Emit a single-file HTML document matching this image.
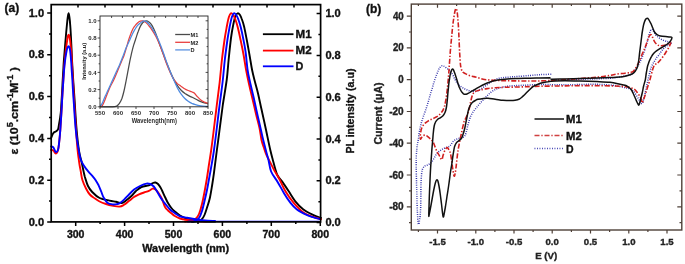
<!DOCTYPE html><html><head><meta charset="utf-8"><style>
html,body{margin:0;padding:0;background:#fff;width:685px;height:264px;overflow:hidden}
svg{display:block;will-change:transform}
text{font-family:'Liberation Sans',sans-serif;font-weight:bold;stroke:#1a1a1a;stroke-width:0.35px;paint-order:stroke}
#inset text{stroke:none}
</style></head><body>
<svg width="685" height="264" viewBox="0 0 685 264">
<rect width="685" height="264" fill="#fff"/>
<g id="pa">
<g fill="none" stroke-width="1.9" stroke-linejoin="round" stroke-linecap="round">
<path d="M51.0 138.4C51.4 137.5 52.6 134.1 53.4 133.0C54.2 131.9 54.9 132.2 55.7 131.6C56.5 131.0 57.4 130.6 58.0 129.3C58.6 128.0 58.7 125.6 59.1 123.6C59.5 121.5 59.9 119.3 60.2 117.0C60.5 114.7 60.8 112.8 61.0 110.0C61.2 107.2 61.4 103.3 61.6 100.0C61.8 96.7 62.0 93.3 62.2 90.0C62.4 86.7 62.5 83.3 62.7 80.0C62.9 76.7 63.1 73.3 63.3 70.0C63.5 66.7 63.6 63.7 63.9 60.0C64.2 56.3 64.6 52.0 64.9 48.0C65.2 44.0 65.6 39.8 65.9 36.0C66.2 32.2 66.6 28.2 66.9 25.0C67.2 21.8 67.5 19.0 67.8 17.0C68.1 15.0 68.3 13.2 68.6 13.2C68.9 13.2 69.1 15.0 69.4 17.0C69.7 19.0 70.0 21.8 70.2 25.0C70.5 28.2 70.7 32.2 70.9 36.0C71.1 39.8 71.3 44.0 71.5 48.0C71.7 52.0 71.8 56.3 72.0 60.0C72.2 63.7 72.4 66.7 72.6 70.0C72.8 73.3 73.0 76.7 73.2 80.0C73.4 83.3 73.7 86.7 73.9 90.0C74.1 93.3 74.4 96.7 74.6 100.0C74.8 103.3 75.0 106.3 75.2 110.0C75.4 113.7 75.7 117.5 76.0 122.0C76.3 126.5 76.9 132.9 77.3 137.0C77.7 141.1 78.0 143.7 78.4 146.5C78.8 149.3 79.1 151.6 79.6 154.0C80.1 156.4 80.6 157.9 81.3 160.7C82.0 163.5 82.9 168.3 83.5 171.0C84.1 173.7 84.2 174.5 84.9 177.0C85.7 179.5 86.8 183.5 88.0 186.0C89.2 188.5 90.3 190.0 92.2 192.0C94.1 194.0 96.7 196.6 99.6 198.0C102.5 199.4 106.8 200.0 109.5 200.6C112.2 201.2 114.0 201.4 116.0 201.8C118.0 202.2 120.1 203.2 121.8 203.0C123.5 202.8 124.3 201.7 126.0 200.5C127.7 199.3 130.0 197.3 131.7 195.7C133.4 194.1 134.4 192.4 136.0 191.0C137.6 189.6 139.3 187.9 141.5 187.0C143.7 186.1 147.0 186.0 148.9 185.3C150.8 184.6 151.9 183.5 153.0 183.0C154.1 182.5 154.7 182.3 155.5 182.5C156.3 182.7 157.2 183.2 158.0 184.0C158.8 184.8 159.8 186.2 160.5 187.5C161.2 188.8 161.8 189.9 162.5 191.5C163.2 193.1 164.1 195.2 165.0 197.0C165.9 198.8 166.7 200.8 167.7 202.5C168.7 204.2 169.9 206.1 171.0 207.5C172.1 208.9 173.0 209.9 174.5 211.2C176.0 212.5 177.9 214.2 180.0 215.5C182.1 216.8 184.5 218.0 187.0 218.8C189.5 219.6 192.0 219.9 195.0 220.3C198.0 220.7 201.7 221.0 205.0 221.2C208.3 221.4 213.3 221.5 215.0 221.6" stroke="#000"/>
<path d="M192.0 221.8C193.0 221.7 196.4 221.6 198.0 221.2C199.6 220.8 200.4 220.6 201.5 219.6C202.6 218.6 203.6 217.1 204.5 215.0C205.4 212.9 206.3 209.8 207.2 207.0C208.1 204.2 209.0 201.8 209.8 198.3C210.6 194.8 211.3 190.3 212.0 186.0C212.7 181.7 213.2 178.7 214.0 172.7C214.8 166.7 215.9 157.4 216.9 150.0C217.9 142.6 218.8 135.5 219.8 128.0C220.8 120.5 221.7 113.0 222.8 105.0C224.0 97.0 225.7 87.5 226.7 80.0C227.7 72.5 227.9 67.0 228.6 60.0C229.3 53.0 230.2 44.0 231.0 38.0C231.8 32.0 232.6 27.8 233.4 24.0C234.2 20.2 234.9 17.3 235.6 15.5C236.3 13.7 237.0 13.5 237.7 13.3C238.4 13.1 239.0 13.6 239.7 14.5C240.4 15.4 241.1 16.9 241.8 19.0C242.6 21.1 243.4 23.5 244.2 27.0C245.0 30.5 245.9 35.3 246.8 40.0C247.7 44.7 248.6 50.0 249.5 55.0C250.4 60.0 251.2 65.5 252.1 70.0C253.0 74.5 254.0 78.0 255.0 82.0C256.0 86.0 257.2 89.9 258.2 94.2C259.2 98.5 260.2 103.5 261.2 108.0C262.2 112.5 263.2 116.8 264.2 121.5C265.2 126.2 266.3 131.2 267.3 136.0C268.3 140.8 269.4 146.1 270.3 150.0C271.2 153.9 271.9 156.4 272.7 159.4C273.5 162.4 274.2 165.3 275.0 168.0C275.8 170.7 276.4 173.2 277.6 175.5C278.8 177.8 280.5 179.2 282.4 181.9C284.3 184.6 286.8 188.4 288.9 191.6C291.0 194.8 292.9 198.3 295.3 201.3C297.7 204.3 300.4 207.2 303.4 209.4C306.3 211.7 310.1 213.4 313.0 214.8C315.9 216.2 319.7 217.5 321.0 218.0" stroke="#000"/>
<path d="M51.0 150.0C51.4 150.1 52.6 149.9 53.4 150.5C54.2 151.1 54.9 153.5 55.7 153.5C56.5 153.5 57.4 152.4 58.0 150.5C58.6 148.6 58.8 145.4 59.2 142.0C59.6 138.6 60.0 134.3 60.3 130.0C60.6 125.7 60.9 120.7 61.2 116.0C61.5 111.3 61.8 106.3 62.0 102.0C62.2 97.7 62.5 93.7 62.7 90.0C62.9 86.3 63.1 83.3 63.3 80.0C63.5 76.7 63.8 73.3 64.0 70.0C64.2 66.7 64.5 63.0 64.8 60.0C65.1 57.0 65.3 54.5 65.6 52.0C65.9 49.5 66.2 47.2 66.5 45.0C66.8 42.8 67.1 40.6 67.4 39.0C67.7 37.4 67.9 36.3 68.1 35.6C68.3 34.9 68.4 34.6 68.6 34.6C68.8 34.6 69.0 34.9 69.2 35.6C69.4 36.3 69.7 37.4 69.9 39.0C70.1 40.6 70.4 42.8 70.6 45.0C70.8 47.2 71.1 49.5 71.3 52.0C71.5 54.5 71.6 57.0 71.8 60.0C72.0 63.0 72.1 66.7 72.3 70.0C72.5 73.3 72.7 76.3 72.9 80.0C73.1 83.7 73.4 88.0 73.6 92.0C73.8 96.0 74.0 99.7 74.3 104.0C74.6 108.3 74.9 113.0 75.2 118.0C75.5 123.0 76.0 129.2 76.3 134.0C76.6 138.8 77.0 143.3 77.3 147.0C77.6 150.7 77.9 153.1 78.3 156.0C78.7 158.9 79.1 162.0 79.5 164.5C79.9 167.0 80.2 168.4 80.7 171.0C81.2 173.6 81.5 177.1 82.4 180.0C83.3 182.9 84.8 186.1 86.0 188.5C87.2 190.9 88.3 192.8 89.8 194.5C91.3 196.2 93.4 197.3 95.0 198.5C96.6 199.7 97.8 200.6 99.6 201.5C101.4 202.4 103.9 203.3 106.0 204.0C108.1 204.7 109.8 205.2 112.0 205.6C114.2 206.0 117.3 206.7 119.3 206.6C121.3 206.5 122.3 205.8 124.0 204.8C125.7 203.8 127.5 202.1 129.2 200.8C130.9 199.5 132.4 198.1 134.0 197.0C135.6 195.9 137.3 195.1 139.0 194.3C140.7 193.6 142.3 193.1 144.0 192.5C145.7 191.9 147.5 191.5 148.9 190.8C150.3 190.2 151.5 188.8 152.6 188.6C153.7 188.4 154.5 188.7 155.5 189.5C156.5 190.3 157.6 191.7 158.7 193.3C159.8 194.9 161.0 196.8 162.0 199.0C163.0 201.2 163.9 204.9 164.9 206.8C165.9 208.7 167.0 209.5 168.0 210.5C169.0 211.5 169.9 212.1 171.0 213.0C172.1 213.9 173.3 215.1 174.8 216.0C176.3 216.9 177.8 217.8 180.0 218.5C182.2 219.2 185.3 219.6 188.0 220.0C190.7 220.4 193.0 220.7 196.0 221.0C199.0 221.3 204.3 221.5 206.0 221.6" stroke="#f00"/>
<path d="M185.0 221.5C186.2 221.3 190.2 221.0 192.0 220.5C193.8 220.0 194.8 219.6 196.0 218.5C197.2 217.4 198.0 216.4 199.0 214.0C200.0 211.6 201.1 207.7 202.0 204.0C202.9 200.3 203.7 196.2 204.5 192.0C205.3 187.8 206.1 183.2 206.8 179.0C207.5 174.8 207.9 171.8 208.6 167.0C209.3 162.2 210.3 156.5 211.2 150.0C212.1 143.5 213.1 135.5 214.0 128.0C214.9 120.5 215.9 112.7 216.8 105.0C217.8 97.3 218.8 89.5 219.7 82.0C220.5 74.5 221.1 67.0 221.9 60.0C222.7 53.0 223.7 45.7 224.5 40.0C225.3 34.3 226.2 29.8 226.9 26.0C227.6 22.2 228.2 19.1 228.9 17.0C229.6 14.9 230.2 13.7 230.9 13.3C231.6 12.9 232.2 13.6 232.9 14.5C233.6 15.4 234.4 16.9 235.2 19.0C236.0 21.1 236.8 23.5 237.7 27.0C238.6 30.5 239.6 35.3 240.6 40.0C241.6 44.7 242.7 50.0 243.6 55.0C244.5 60.0 245.2 65.2 246.1 70.0C247.0 74.8 248.0 79.5 249.0 84.0C250.0 88.5 250.9 92.3 252.1 97.3C253.3 102.3 254.8 108.9 256.0 114.0C257.2 119.1 258.6 123.7 259.5 128.0C260.4 132.3 260.8 136.7 261.5 140.0C262.2 143.3 263.2 145.6 264.0 148.0C264.8 150.4 265.3 152.2 266.3 154.5C267.3 156.8 268.6 159.3 270.0 162.0C271.4 164.7 272.9 167.8 274.4 170.6C275.9 173.4 277.3 175.2 279.2 178.7C281.1 182.2 283.2 187.6 285.6 191.6C288.0 195.6 290.7 199.4 293.7 202.9C296.7 206.4 300.2 210.3 303.4 212.6C306.6 214.9 310.1 215.7 313.0 216.8C315.9 217.9 319.7 218.8 321.0 219.2" stroke="#f00"/>
<path d="M51.1 146.4C51.5 146.6 52.6 146.6 53.4 147.5C54.2 148.4 54.9 151.6 55.7 152.0C56.5 152.4 57.4 151.5 58.0 149.8C58.6 148.1 58.8 145.1 59.2 141.8C59.6 138.5 60.0 134.3 60.3 130.0C60.6 125.7 60.9 120.7 61.2 116.0C61.5 111.3 61.8 106.3 62.0 102.0C62.2 97.7 62.5 93.7 62.7 90.0C62.9 86.3 63.2 83.3 63.4 80.0C63.6 76.7 63.8 73.0 64.1 70.0C64.3 67.0 64.6 64.3 64.9 62.0C65.2 59.7 65.4 57.8 65.7 56.0C66.0 54.2 66.3 52.4 66.6 51.0C66.9 49.6 67.3 48.3 67.6 47.5C67.9 46.7 68.3 46.2 68.6 46.2C68.9 46.2 69.2 46.7 69.5 47.5C69.8 48.3 70.0 49.6 70.2 51.0C70.4 52.4 70.5 54.2 70.7 56.0C70.9 57.8 71.0 59.7 71.2 62.0C71.4 64.3 71.5 67.0 71.7 70.0C71.9 73.0 72.2 76.3 72.4 80.0C72.6 83.7 72.8 88.0 73.1 92.0C73.3 96.0 73.6 99.7 73.9 104.0C74.2 108.3 74.5 114.0 74.8 118.0C75.1 122.0 75.3 124.8 75.6 128.0C75.9 131.2 76.1 133.6 76.6 137.0C77.1 140.4 77.7 144.8 78.4 148.6C79.1 152.3 79.7 156.5 80.7 159.5C81.7 162.5 83.2 164.4 84.5 166.5C85.8 168.6 87.3 170.2 88.6 171.8C89.9 173.4 91.1 174.4 92.3 175.8C93.5 177.2 94.5 178.4 95.5 180.0C96.5 181.6 97.6 183.4 98.6 185.3C99.5 187.2 100.4 189.5 101.2 191.5C102.0 193.5 102.5 195.6 103.6 197.5C104.7 199.4 106.1 201.8 107.7 203.0C109.3 204.2 111.6 204.3 113.2 204.5C114.8 204.7 116.4 204.2 117.5 204.0C118.6 203.8 118.9 203.8 120.0 203.0C121.1 202.2 122.8 200.8 124.3 199.4C125.8 198.0 127.4 196.1 129.0 194.5C130.6 192.9 132.3 191.0 134.1 189.6C135.9 188.2 137.9 187.0 140.0 186.0C142.1 185.0 144.7 183.9 146.4 183.6C148.1 183.3 148.8 183.5 150.0 184.0C151.2 184.5 152.7 185.3 153.8 186.5C154.9 187.7 155.7 189.2 156.8 191.0C157.9 192.8 159.1 195.2 160.2 197.0C161.3 198.8 162.5 200.3 163.6 201.8C164.7 203.3 165.8 204.6 167.0 206.0C168.2 207.4 169.2 208.8 170.5 210.0C171.8 211.2 173.4 212.1 175.0 213.2C176.6 214.2 178.0 215.5 180.0 216.3C182.0 217.1 184.4 217.3 187.0 217.8C189.6 218.3 192.6 218.8 195.6 219.2C198.6 219.6 201.8 220.2 205.0 220.5C208.2 220.8 213.3 220.9 215.0 221.0" stroke="#00f"/>
<path d="M188.0 221.6C189.2 221.5 193.2 221.4 195.0 220.8C196.8 220.2 197.8 219.6 199.0 218.0C200.2 216.4 201.0 214.2 202.0 211.0C203.0 207.8 204.1 202.7 205.0 199.0C205.9 195.3 206.5 192.5 207.2 189.0C207.9 185.5 208.5 181.7 209.2 178.0C209.9 174.3 210.4 171.7 211.2 167.0C212.0 162.3 213.1 156.5 214.0 150.0C214.9 143.5 215.9 135.5 216.8 128.0C217.7 120.5 218.6 112.7 219.6 105.0C220.6 97.3 221.7 89.5 222.6 82.0C223.5 74.5 224.0 67.0 224.8 60.0C225.6 53.0 226.6 45.7 227.4 40.0C228.2 34.3 229.1 29.8 229.8 26.0C230.6 22.2 231.2 19.1 231.9 17.0C232.6 14.9 233.2 13.7 233.9 13.3C234.6 12.9 235.2 13.6 235.9 14.5C236.6 15.4 237.4 16.9 238.2 19.0C239.0 21.1 239.8 23.5 240.7 27.0C241.6 30.5 242.7 35.8 243.5 40.0C244.3 44.2 244.9 47.0 245.6 52.0C246.3 57.0 246.9 65.0 247.6 70.0C248.3 75.0 249.0 77.5 250.0 82.0C251.0 86.5 252.5 92.5 253.6 97.3C254.7 102.1 255.6 106.5 256.6 111.0C257.6 115.5 258.7 120.2 259.7 124.5C260.7 128.8 261.5 132.8 262.5 137.0C263.5 141.2 264.8 146.2 265.8 150.0C266.8 153.8 267.6 156.4 268.5 160.0C269.4 163.6 269.6 167.8 271.1 171.5C272.6 175.2 275.5 178.3 277.6 181.9C279.8 185.5 281.9 189.7 284.0 193.2C286.1 196.7 288.4 200.2 290.5 202.9C292.6 205.6 294.2 207.4 296.9 209.4C299.6 211.4 303.9 213.5 306.6 214.8C309.3 216.1 310.9 216.5 313.0 217.2C315.1 217.9 318.4 218.7 319.5 219.0" stroke="#00f"/>
<path d="M196.0 221.4 L319 221.4" stroke="#00f" stroke-width="1.4"/>
</g>
<rect x="51.2" y="4.6" width="269.4" height="217.3" fill="none" stroke="#000" stroke-width="1.7"/>
<path d="M47.2 222.0H51.2M49.0 201.1H51.2M47.2 180.2H51.2M49.0 159.3H51.2M47.2 138.4H51.2M49.0 117.5H51.2M47.2 96.6H51.2M49.0 75.7H51.2M47.2 54.8H51.2M49.0 33.9H51.2M47.2 13.0H51.2M316.6 222.6H320.6M318.4 201.7H320.6M316.6 180.8H320.6M318.4 159.9H320.6M316.6 139.0H320.6M318.4 118.1H320.6M316.6 97.2H320.6M318.4 76.3H320.6M316.6 55.4H320.6M318.4 34.5H320.6M316.6 13.6H320.6M75.7 221.9V225.9M124.6 221.9V225.9M173.5 221.9V225.9M222.4 221.9V225.9M271.3 221.9V225.9M320.3 221.9V225.9M100.1 221.9V224.1M149.0 221.9V224.1M198.0 221.9V224.1M246.9 221.9V224.1M295.8 221.9V224.1M294.0 4.6V7.6M267.0 4.6V7.6M240.0 4.6V7.6M213.0 4.6V7.6M186.0 4.6V7.6M159.0 4.6V7.6M132.0 4.6V7.6M105.0 4.6V7.6M78.0 4.6V7.6" stroke="#000" stroke-width="1.5" fill="none"/>
<g font-size="10.2" fill="#111">
<text x="44.1" y="225.6" text-anchor="end" textLength="15.4" lengthAdjust="spacingAndGlyphs">0.0</text>
<text x="325.4" y="226.2" textLength="15.4" lengthAdjust="spacingAndGlyphs">0.0</text>
<text x="44.1" y="183.8" text-anchor="end" textLength="15.4" lengthAdjust="spacingAndGlyphs">0.2</text>
<text x="325.4" y="184.4" textLength="15.4" lengthAdjust="spacingAndGlyphs">0.2</text>
<text x="44.1" y="142.0" text-anchor="end" textLength="15.4" lengthAdjust="spacingAndGlyphs">0.4</text>
<text x="325.4" y="142.6" textLength="15.4" lengthAdjust="spacingAndGlyphs">0.4</text>
<text x="44.1" y="100.2" text-anchor="end" textLength="15.4" lengthAdjust="spacingAndGlyphs">0.6</text>
<text x="325.4" y="100.8" textLength="15.4" lengthAdjust="spacingAndGlyphs">0.6</text>
<text x="44.1" y="58.4" text-anchor="end" textLength="15.4" lengthAdjust="spacingAndGlyphs">0.8</text>
<text x="325.4" y="59.0" textLength="15.4" lengthAdjust="spacingAndGlyphs">0.8</text>
<text x="44.1" y="16.6" text-anchor="end" textLength="15.4" lengthAdjust="spacingAndGlyphs">1.0</text>
<text x="325.4" y="17.2" textLength="15.4" lengthAdjust="spacingAndGlyphs">1.0</text>
<text x="75.7" y="238.0" text-anchor="middle" textLength="17.6" lengthAdjust="spacingAndGlyphs">300</text>
<text x="124.6" y="238.0" text-anchor="middle" textLength="17.6" lengthAdjust="spacingAndGlyphs">400</text>
<text x="173.5" y="238.0" text-anchor="middle" textLength="17.6" lengthAdjust="spacingAndGlyphs">500</text>
<text x="222.4" y="238.0" text-anchor="middle" textLength="17.6" lengthAdjust="spacingAndGlyphs">600</text>
<text x="271.3" y="238.0" text-anchor="middle" textLength="17.6" lengthAdjust="spacingAndGlyphs">700</text>
<text x="320.3" y="238.0" text-anchor="middle" textLength="17.6" lengthAdjust="spacingAndGlyphs">800</text>
</g>
<text x="142.3" y="252.0" font-size="10.4" textLength="86.8" lengthAdjust="spacingAndGlyphs" fill="#111">Wavelength (nm)</text>
<text x="4.6" y="11.8" font-size="12" fill="#111">(a)</text>
<text transform="translate(17.8,154.6) rotate(-90)" font-size="11.6" fill="#111" textLength="87.5" lengthAdjust="spacingAndGlyphs">&#949; (10<tspan font-size="8.4" dy="-4.6">5</tspan><tspan dy="4.6">.cm</tspan><tspan font-size="8.4" dy="-4.6">-1</tspan><tspan dy="4.6">M</tspan><tspan font-size="8.4" dy="-4.6">-1</tspan><tspan dy="4.6"> )</tspan></text>
<text transform="translate(353.6,153.6) rotate(-90)" font-size="11.4" fill="#111" textLength="85" lengthAdjust="spacingAndGlyphs">PL intensity (a.u)</text>
<g stroke-width="1.8">
<path d="M262.9 34.2H293.5" stroke="#000"/>
<path d="M262.9 50.6H293.5" stroke="#f00"/>
<path d="M262.9 66.3H293.5" stroke="#00f"/>
</g>
<g font-size="10.5" fill="#111">
<text x="295.5" y="37.9" textLength="16.1" lengthAdjust="spacingAndGlyphs">M1</text>
<text x="295.5" y="54.4" textLength="16.1" lengthAdjust="spacingAndGlyphs">M2</text>
<text x="295.5" y="70.1" textLength="7.8" lengthAdjust="spacingAndGlyphs">D</text>
</g>
<g id="inset">
<g fill="none" stroke-width="1.25" stroke-linejoin="round">
<path d="M100.0 106.8C102.1 106.8 109.8 106.9 112.6 106.8C115.4 106.7 115.4 106.7 116.6 106.1C117.7 105.5 118.5 104.7 119.4 103.4C120.3 102.0 121.2 100.4 122.0 98.2C122.7 96.0 123.5 93.2 124.1 90.5C124.8 87.7 125.3 84.9 125.9 81.9C126.5 78.8 127.1 75.6 127.7 72.4C128.3 69.2 128.9 66.0 129.5 62.9C130.1 59.9 130.7 57.2 131.3 54.3C132.0 51.5 132.7 48.5 133.5 45.7C134.3 43.0 135.2 40.4 136.0 38.0C136.8 35.6 137.4 33.5 138.2 31.5C138.9 29.6 139.6 27.8 140.3 26.4C141.0 25.0 141.8 23.8 142.5 23.0C143.1 22.1 143.6 21.8 144.3 21.4C144.9 21.0 145.7 20.8 146.4 20.8C147.2 20.8 147.8 21.1 148.6 21.7C149.4 22.2 150.3 23.1 151.1 24.2C152.0 25.4 152.7 26.7 153.6 28.5C154.5 30.4 155.5 32.7 156.5 35.4C157.5 38.1 158.6 41.7 159.8 44.9C160.9 48.0 162.2 51.2 163.4 54.3C164.6 57.5 165.8 60.8 167.0 63.8C168.2 66.8 169.4 69.7 170.6 72.4C171.8 75.1 173.0 77.8 174.2 80.1C175.4 82.4 176.6 84.4 177.8 86.2C179.0 87.9 180.2 89.2 181.4 90.5C182.6 91.7 183.8 92.6 185.0 93.5C186.2 94.3 187.4 95.0 188.6 95.6C189.8 96.3 190.8 96.7 192.2 97.3C193.5 98.0 195.0 98.8 196.5 99.5C197.9 100.2 199.5 101.1 200.8 101.6C202.1 102.2 203.2 102.6 204.4 102.9C205.6 103.3 207.4 103.6 208.0 103.8" stroke="#4a4a4a"/>
<path d="M100.0 106.6C100.4 106.5 101.4 106.6 102.2 105.8C102.9 104.9 103.5 103.6 104.3 101.6C105.2 99.7 106.2 96.3 107.2 93.9C108.2 91.5 109.0 89.3 110.1 87.0C111.2 84.7 112.6 82.4 113.7 80.1C114.8 77.8 115.7 75.4 116.6 73.3C117.5 71.1 118.2 69.2 119.1 67.2C119.9 65.2 120.8 63.2 121.6 61.2C122.4 59.2 123.3 57.6 124.1 55.2C125.0 52.8 125.9 49.5 126.6 47.0C127.4 44.6 127.7 42.9 128.4 40.6C129.2 38.3 130.2 35.3 131.0 33.3C131.7 31.3 132.4 29.9 133.1 28.5C133.8 27.2 134.5 26.2 135.3 25.3C136.1 24.3 137.0 23.4 137.8 22.7C138.6 22.0 139.5 21.5 140.3 21.2C141.1 20.9 141.8 20.7 142.5 20.8C143.2 20.9 143.9 21.2 144.6 21.7C145.4 22.1 146.1 22.7 146.8 23.4C147.5 24.1 148.1 24.8 149.0 26.0C149.9 27.1 151.1 28.5 152.2 30.3C153.3 32.0 154.6 34.0 155.8 36.3C157.0 38.6 158.2 41.2 159.4 44.0C160.6 46.9 161.8 50.2 163.0 53.5C164.2 56.8 165.4 60.6 166.6 63.8C167.8 67.0 169.0 69.8 170.2 72.4C171.4 75.0 172.6 77.4 173.8 79.3C175.0 81.1 176.2 82.4 177.4 83.6C178.6 84.7 179.8 85.3 181.0 86.2C182.2 87.0 183.4 88.0 184.6 88.7C185.8 89.5 187.0 90.0 188.2 90.5C189.4 91.0 190.8 91.3 191.8 91.8C192.8 92.2 193.4 92.3 194.3 93.0C195.2 93.8 196.1 95.3 197.2 96.5C198.3 97.6 199.6 99.0 200.8 99.9C202.0 100.9 203.2 101.5 204.4 102.1C205.6 102.6 207.4 103.1 208.0 103.4" stroke="#e8403f"/>
<path d="M100.0 106.5C100.4 106.0 101.4 104.8 102.2 103.4C102.9 102.0 103.6 99.8 104.3 98.2C105.0 96.6 105.7 95.2 106.5 93.5C107.3 91.8 108.0 90.1 109.0 87.9C110.0 85.7 111.4 82.8 112.6 80.1C113.8 77.5 115.0 74.6 116.2 72.0C117.4 69.3 118.7 66.9 119.8 64.2C120.9 61.6 122.0 58.7 123.0 56.1C124.1 53.4 124.8 51.0 125.9 48.3C127.1 45.6 128.8 42.1 129.9 39.7C131.0 37.4 131.6 35.8 132.4 34.1C133.2 32.4 134.1 30.8 134.9 29.4C135.8 28.0 136.6 26.7 137.4 25.7C138.3 24.7 139.2 23.9 140.0 23.2C140.7 22.5 141.5 22.1 142.1 21.7C142.8 21.3 143.3 20.8 143.9 20.8C144.6 20.8 145.2 20.9 146.1 21.4C146.9 21.9 147.9 22.9 149.0 24.1C150.0 25.3 151.1 26.8 152.2 28.5C153.3 30.3 154.6 32.3 155.8 34.6C157.0 36.9 158.2 39.4 159.4 42.3C160.6 45.2 161.8 48.5 163.0 51.8C164.2 55.1 165.4 58.8 166.6 62.1C167.8 65.4 169.0 68.5 170.2 71.5C171.4 74.5 172.6 77.4 173.8 80.1C175.0 82.9 176.2 85.6 177.4 87.9C178.6 90.2 179.8 92.2 181.0 93.9C182.2 95.6 183.4 97.0 184.6 98.2C185.8 99.4 187.0 100.3 188.2 101.2C189.4 102.1 190.6 102.8 191.8 103.4C193.0 103.9 193.9 104.2 195.4 104.6C196.9 105.1 198.7 105.5 200.8 105.8C202.9 106.1 206.8 106.3 208.0 106.4" stroke="#4f8be0"/>
</g>
<rect x="100.0" y="16.0" width="108.0" height="90.8" fill="none" stroke="#222" stroke-width="0.9"/>
<path d="M97.6 106.8H100.0M205.6 106.8H208.0M98.6 98.2H100.0M206.6 98.2H208.0M97.6 89.6H100.0M205.6 89.6H208.0M98.6 81.0H100.0M206.6 81.0H208.0M97.6 72.4H100.0M205.6 72.4H208.0M98.6 63.8H100.0M206.6 63.8H208.0M97.6 55.2H100.0M205.6 55.2H208.0M98.6 46.6H100.0M206.6 46.6H208.0M97.6 38.0H100.0M205.6 38.0H208.0M98.6 29.4H100.0M206.6 29.4H208.0M97.6 20.8H100.0M205.6 20.8H208.0M100.0 106.8V109.0M118.0 106.8V109.0M136.0 106.8V109.0M154.0 106.8V109.0M172.0 106.8V109.0M190.0 106.8V109.0M208.0 106.8V109.0M111.6 16.0V18.0M122.4 16.0V18.0M133.2 16.0V18.0M144.0 16.0V18.0M154.8 16.0V18.0M165.6 16.0V18.0M176.4 16.0V18.0M187.2 16.0V18.0M198.0 16.0V18.0" stroke="#222" stroke-width="0.8" fill="none"/>
<g font-size="6" fill="#2a2a2a">
<text x="96.6" y="109.0" text-anchor="end">0.0</text>
<text x="96.6" y="91.8" text-anchor="end">0.2</text>
<text x="96.6" y="74.6" text-anchor="end">0.4</text>
<text x="96.6" y="57.4" text-anchor="end">0.6</text>
<text x="96.6" y="40.2" text-anchor="end">0.8</text>
<text x="96.6" y="23.0" text-anchor="end">1.0</text>
<text x="100.0" y="115.3" text-anchor="middle">550</text>
<text x="118.0" y="115.3" text-anchor="middle">600</text>
<text x="136.0" y="115.3" text-anchor="middle">650</text>
<text x="154.0" y="115.3" text-anchor="middle">700</text>
<text x="172.0" y="115.3" text-anchor="middle">750</text>
<text x="190.0" y="115.3" text-anchor="middle">800</text>
<text x="208.0" y="115.3" text-anchor="middle">850</text>
</g>
<text x="131.7" y="123.4" font-size="6.4" fill="#2a2a2a" textLength="45.2" lengthAdjust="spacingAndGlyphs">Wavelength(nm)</text>
<text transform="translate(86.2,79.8) rotate(-90)" font-size="6" fill="#222" textLength="37" lengthAdjust="spacingAndGlyphs">Intensity (a.u)</text>
<g stroke-width="1.3">
<path d="M175.2 34.5H190" stroke="#4a4a4a"/>
<path d="M175.2 42.3H190" stroke="#e8403f"/>
<path d="M175.2 49.9H190" stroke="#5b93e0"/>
</g>
<g font-size="5.6" fill="#222">
<text x="190.6" y="36.7">M1</text>
<text x="190.6" y="44.5">M2</text>
<text x="190.6" y="52.1">D</text>
</g>
</g>
</g>
<g id="pb">
<g fill="none" stroke-linejoin="round">
<path d="M551.5 80.2C553.8 80.1 560.2 80.0 565.0 79.8C569.8 79.6 574.7 79.5 580.0 79.3C585.3 79.1 592.0 79.0 597.0 78.8C602.0 78.6 606.5 78.5 610.0 78.3C613.5 78.0 615.5 77.7 618.0 77.3C620.5 76.9 623.0 76.2 625.0 75.8C627.0 75.4 628.7 75.1 630.0 74.7C631.3 74.3 632.0 74.2 633.0 73.2C634.0 72.2 635.2 70.0 636.2 68.5C637.2 67.0 638.0 65.8 639.0 63.9C640.0 62.0 641.3 59.2 642.2 57.0C643.1 54.8 643.9 52.8 644.6 50.6C645.3 48.4 646.0 46.0 646.6 44.0C647.2 42.0 647.7 40.2 648.1 38.5C648.5 36.8 648.9 35.3 649.3 34.0C649.7 32.7 650.0 31.6 650.4 30.8C650.8 30.0 651.2 29.5 651.6 29.4C652.0 29.3 652.3 29.5 652.8 30.0C653.2 30.5 653.6 31.4 654.3 32.5C655.0 33.6 655.8 35.2 657.2 36.4C658.6 37.6 660.7 39.0 662.5 39.9C664.3 40.8 666.4 41.2 667.9 41.7C669.4 42.2 671.0 42.2 671.3 42.6C671.6 43.0 670.3 43.8 669.5 44.4C668.7 45.0 667.4 45.4 666.5 46.0C665.6 46.6 664.7 47.6 664.0 48.3C663.3 49.0 662.9 49.2 662.3 50.0C661.7 50.8 660.7 52.2 660.2 53.0C659.7 53.8 659.8 53.8 659.2 54.6C658.6 55.4 657.4 56.5 656.6 57.7C655.8 58.9 655.1 60.1 654.2 61.6C653.3 63.1 652.1 64.8 651.3 67.0C650.5 69.2 650.0 71.8 649.3 74.5C648.6 77.2 647.9 80.4 647.2 83.5C646.5 86.6 645.8 90.3 645.2 93.0C644.6 95.7 644.0 97.8 643.5 99.5C643.0 101.2 642.9 102.6 642.5 103.3C642.1 104.0 641.8 103.7 641.4 103.4C641.0 103.1 640.5 102.2 640.0 101.4C639.5 100.6 639.0 99.7 638.3 98.5C637.6 97.3 636.5 95.5 635.6 94.2C634.7 92.9 634.1 91.7 633.0 90.8C631.9 89.9 630.3 89.1 629.0 88.6C627.7 88.1 627.3 88.3 625.0 87.8C622.7 87.3 619.2 86.2 615.0 85.6C610.8 85.0 605.0 84.6 600.0 84.4C595.0 84.2 590.0 84.3 585.0 84.4C580.0 84.5 574.2 84.7 570.0 84.8C565.8 84.9 563.6 84.8 560.0 84.8C556.4 84.8 551.5 84.6 548.2 84.6C544.9 84.6 542.5 84.6 540.0 84.6C537.5 84.6 535.5 84.7 533.0 84.8C530.5 84.9 527.5 85.1 525.0 85.2C522.5 85.3 520.4 85.4 517.9 85.5C515.4 85.6 512.5 85.8 510.0 86.0C507.5 86.2 504.7 86.6 502.7 87.0C500.7 87.4 499.2 88.1 498.0 88.5C496.8 88.9 496.4 89.0 495.2 89.6C494.0 90.2 492.3 91.2 491.0 92.2C489.7 93.2 488.8 94.2 487.6 95.3C486.4 96.4 485.3 97.7 484.0 99.0C482.7 100.3 481.2 101.9 480.0 103.3C478.8 104.7 477.6 106.2 476.5 107.6C475.4 109.0 474.1 110.4 473.2 111.8C472.2 113.2 471.5 114.5 470.8 116.0C470.1 117.5 469.7 118.8 469.2 120.5C468.7 122.2 468.1 124.3 467.6 126.3C467.1 128.3 466.6 130.9 466.1 132.5C465.6 134.1 465.5 134.9 464.8 135.8C464.1 136.7 463.2 137.3 462.0 137.8C460.8 138.3 458.9 138.3 457.5 138.8C456.1 139.3 454.8 140.0 453.7 140.9C452.6 141.8 451.8 143.6 451.0 144.5C450.2 145.4 450.0 146.0 448.9 146.6C447.8 147.2 445.6 147.7 444.2 148.3C442.8 148.9 441.7 149.5 440.4 150.4C439.1 151.3 437.7 152.6 436.6 154.0C435.5 155.4 434.8 157.2 433.8 158.7C432.9 160.2 432.0 161.7 430.9 162.8C429.8 163.9 428.3 164.6 427.2 165.2C426.1 165.8 425.1 165.6 424.3 166.3C423.5 167.0 422.9 168.1 422.4 169.5C421.9 170.9 421.7 172.8 421.5 175.0C421.3 177.2 421.1 179.7 421.0 183.0C420.9 186.3 420.9 191.0 420.9 195.0C420.8 199.0 420.8 203.5 420.7 207.0C420.6 210.5 420.3 213.6 420.1 216.0C419.9 218.4 419.5 220.1 419.3 221.5C419.1 222.9 418.9 224.2 418.7 224.3C418.5 224.4 418.2 224.1 418.0 222.0C417.8 219.9 417.6 216.3 417.4 212.0C417.2 207.7 417.0 201.2 416.9 196.0C416.8 190.8 416.6 186.0 416.5 181.0C416.4 176.0 416.2 170.2 416.2 166.0C416.2 161.8 416.2 158.8 416.3 156.0C416.4 153.2 416.6 151.0 416.8 149.0C417.0 147.0 417.2 145.6 417.5 144.0C417.8 142.4 418.0 141.2 418.3 139.5C418.6 137.8 418.8 135.4 419.1 133.5C419.4 131.6 419.7 129.8 420.1 128.0C420.5 126.2 420.9 124.6 421.4 122.7C421.9 120.8 422.6 118.5 423.3 116.5C424.0 114.5 424.7 112.9 425.4 110.8C426.1 108.7 426.9 106.4 427.6 104.0C428.3 101.6 429.0 99.1 429.7 96.6C430.4 94.1 431.2 91.5 432.0 89.0C432.8 86.5 433.4 83.8 434.2 81.5C434.9 79.2 435.8 76.9 436.5 75.0C437.2 73.1 437.9 71.3 438.5 70.0C439.1 68.7 439.4 68.1 440.0 67.4C440.6 66.7 441.3 66.1 441.8 65.9C442.3 65.7 442.7 65.9 443.2 66.0C443.7 66.1 444.2 66.3 444.8 66.7C445.4 67.1 446.3 67.9 447.0 68.4C447.7 69.0 448.3 69.4 449.0 70.0C449.7 70.6 450.3 71.1 451.0 72.0C451.7 72.9 452.3 74.1 453.0 75.4C453.7 76.7 454.4 78.4 455.2 79.7C455.9 81.0 456.7 82.5 457.5 83.5C458.3 84.5 459.1 85.3 460.0 86.0C460.9 86.7 461.8 87.3 462.9 87.9C464.0 88.5 465.2 89.2 466.5 89.7C467.8 90.2 469.2 90.7 470.5 91.0C471.8 91.3 472.9 91.5 474.0 91.5C475.1 91.5 475.9 91.4 477.0 91.0C478.1 90.6 479.3 90.0 480.5 89.3C481.7 88.6 482.8 87.6 484.0 86.8C485.2 86.0 486.4 85.3 487.6 84.4C488.9 83.5 490.2 82.4 491.5 81.6C492.8 80.8 493.9 80.1 495.2 79.6C496.4 79.0 497.8 78.6 499.0 78.3C500.2 78.0 500.9 77.9 502.7 77.7C504.5 77.5 507.5 77.2 510.0 77.0C512.5 76.8 514.6 76.7 517.9 76.4C521.2 76.2 526.2 75.8 530.0 75.5C533.8 75.2 537.0 74.8 540.6 74.6C544.2 74.4 549.8 74.3 551.6 74.3" stroke="#2a2aa6" stroke-width="1.5" stroke-dasharray="0.9 1.35" stroke-linecap="butt"/>
<path d="M551.0 80.4C553.3 80.3 560.2 79.9 565.0 79.6C569.8 79.3 574.7 79.0 580.0 78.6C585.3 78.2 592.0 77.7 597.0 77.2C602.0 76.7 606.6 75.9 610.0 75.4C613.4 74.9 614.9 74.4 617.4 74.0C619.9 73.6 622.9 73.5 625.0 73.2C627.1 73.0 628.7 72.8 630.0 72.5C631.3 72.2 632.0 72.4 633.0 71.6C634.0 70.8 635.0 69.2 636.0 67.5C637.0 65.8 638.2 63.7 639.2 61.5C640.2 59.3 641.0 56.8 642.0 54.5C643.0 52.2 644.1 50.1 644.9 48.0C645.7 45.9 646.4 43.8 647.0 42.0C647.6 40.2 648.2 38.2 648.8 37.0C649.3 35.8 649.9 35.2 650.3 34.8C650.7 34.4 650.9 34.4 651.3 34.8C651.7 35.2 652.0 36.1 652.5 37.2C653.0 38.3 653.8 40.4 654.5 41.6C655.2 42.8 656.2 43.9 657.0 44.6C657.8 45.3 658.4 45.4 659.4 45.6C660.4 45.8 661.8 45.8 663.0 45.6C664.2 45.4 665.5 45.2 666.8 44.6C668.1 44.0 670.1 42.0 670.6 42.2C671.1 42.4 670.1 44.6 669.5 46.0C668.9 47.4 668.1 48.8 667.0 50.5C665.9 52.2 664.4 54.8 663.1 56.5C661.9 58.2 660.5 59.8 659.5 61.0C658.5 62.2 657.8 62.8 657.0 63.5C656.2 64.2 655.2 63.9 654.5 65.0C653.8 66.1 653.2 67.6 652.5 70.0C651.8 72.4 650.8 76.8 650.0 79.6C649.2 82.3 648.5 84.3 647.8 86.5C647.1 88.7 646.4 91.0 645.8 93.0C645.2 95.0 644.5 97.0 644.0 98.5C643.5 100.0 643.0 101.5 642.6 102.2C642.2 102.9 642.0 102.9 641.8 102.6C641.6 102.3 642.0 101.6 641.6 100.5C641.2 99.4 640.4 97.4 639.6 96.0C638.8 94.6 637.9 93.3 637.0 92.2C636.1 91.1 635.5 90.0 634.3 89.2C633.1 88.4 631.5 87.9 630.0 87.5C628.5 87.1 627.5 86.8 625.0 86.6C622.5 86.3 619.2 86.2 615.0 86.0C610.8 85.8 605.0 85.8 600.0 85.7C595.0 85.6 590.0 85.6 585.0 85.6C580.0 85.6 575.0 85.7 570.0 85.8C565.0 85.9 559.9 85.9 555.0 86.0C550.1 86.1 544.8 86.1 540.6 86.2C536.4 86.3 533.8 86.5 530.0 86.6C526.2 86.7 522.1 86.9 517.9 87.0C513.7 87.1 508.8 87.2 505.0 87.3C501.2 87.4 498.2 87.6 495.2 87.8C492.2 88.0 489.5 88.2 487.0 88.6C484.5 89.0 481.9 89.5 480.0 90.0C478.1 90.5 476.7 90.8 475.6 91.4C474.5 92.0 473.8 92.6 473.2 93.5C472.6 94.4 472.2 95.6 471.8 97.0C471.4 98.4 471.0 100.2 470.6 102.0C470.2 103.8 469.9 106.0 469.4 108.0C468.9 110.0 468.2 112.2 467.6 114.0C467.0 115.8 466.2 117.3 465.6 118.5C465.1 119.7 464.7 120.1 464.3 121.0C463.9 121.9 463.9 122.3 463.5 124.0C463.1 125.7 462.3 129.0 461.9 131.0C461.4 133.0 461.2 134.4 460.8 136.2C460.4 138.0 460.0 139.8 459.6 142.0C459.2 144.2 458.6 147.0 458.2 149.5C457.8 152.0 457.5 154.2 457.2 157.0C456.9 159.8 456.5 163.3 456.2 166.0C455.9 168.7 455.5 171.3 455.2 173.0C454.9 174.7 454.8 175.9 454.5 176.2C454.2 176.4 454.0 175.9 453.7 174.5C453.4 173.1 453.0 170.4 452.6 168.0C452.2 165.6 452.0 162.5 451.6 160.0C451.2 157.5 450.8 154.8 450.4 153.2C450.0 151.6 449.6 151.2 449.1 150.3C448.6 149.4 448.1 148.1 447.6 147.8C447.1 147.5 446.7 147.7 446.2 148.3C445.7 148.9 445.0 150.1 444.5 151.3C444.0 152.5 443.5 154.0 443.1 155.3C442.7 156.6 442.5 158.6 442.1 159.2C441.7 159.8 441.4 159.4 440.9 158.8C440.4 158.2 439.9 156.7 439.3 155.5C438.7 154.3 437.7 153.2 437.0 151.7C436.3 150.2 435.6 148.2 434.9 146.5C434.2 144.8 433.7 142.9 432.8 141.5C431.9 140.1 430.6 139.2 429.7 138.3C428.8 137.4 427.9 136.6 427.2 136.1C426.5 135.6 425.9 135.3 425.3 135.2C424.7 135.1 423.9 135.2 423.3 135.6C422.7 136.0 422.2 136.8 421.7 137.4C421.2 138.0 420.8 139.4 420.5 139.3C420.2 139.2 420.2 138.1 420.2 137.0C420.2 135.9 420.4 134.3 420.6 133.0C420.8 131.7 421.0 130.2 421.4 129.0C421.8 127.8 422.3 126.6 423.0 125.6C423.7 124.6 424.6 123.6 425.5 122.8C426.4 122.0 427.5 121.4 428.5 120.8C429.5 120.2 430.4 119.8 431.5 119.3C432.6 118.8 433.8 118.2 435.0 117.6C436.2 117.0 437.4 116.5 438.5 115.6C439.6 114.7 440.8 113.4 441.8 112.0C442.8 110.6 443.6 109.2 444.3 107.0C445.0 104.8 445.5 101.8 446.0 99.0C446.5 96.2 446.8 93.2 447.2 90.0C447.6 86.8 447.9 83.3 448.2 80.0C448.5 76.7 448.8 73.3 449.0 70.0C449.2 66.7 449.4 63.7 449.7 60.0C450.0 56.3 450.2 52.2 450.6 48.0C451.0 43.8 451.4 39.3 451.8 35.0C452.2 30.7 452.7 25.7 453.2 22.0C453.7 18.3 454.2 15.2 454.6 13.0C455.0 10.8 455.3 9.7 455.6 9.0C455.9 8.3 456.1 8.3 456.4 9.0C456.7 9.7 457.0 10.7 457.3 13.0C457.6 15.3 457.9 19.2 458.2 23.0C458.5 26.8 458.7 31.5 458.9 36.0C459.1 40.5 459.3 46.0 459.5 50.0C459.7 54.0 459.9 57.2 460.1 60.0C460.3 62.8 460.4 65.1 460.8 67.0C461.2 68.9 461.6 70.4 462.3 71.5C463.1 72.6 464.2 73.0 465.3 73.6C466.4 74.2 467.5 74.8 468.6 75.2C469.7 75.6 470.9 75.9 472.0 76.2C473.1 76.5 474.3 76.7 475.5 77.0C476.7 77.3 477.5 77.6 479.0 78.0C480.5 78.4 482.7 79.2 484.5 79.5C486.3 79.8 488.2 79.8 490.0 80.0C491.8 80.2 492.7 80.3 495.2 80.4C497.7 80.5 501.2 80.6 505.0 80.7C508.8 80.8 513.7 80.9 517.9 80.9C522.1 81.0 526.2 81.0 530.0 81.0C533.8 81.0 537.1 81.0 540.6 80.9C544.1 80.8 549.3 80.6 551.0 80.6" stroke="#d02020" stroke-width="1.6" stroke-dasharray="5 1.8 1.4 1.8"/>
<path d="M550.5 79.3C552.9 79.2 560.1 79.1 565.0 79.0C569.9 78.9 574.7 78.8 580.0 78.6C585.3 78.4 592.0 78.2 597.0 78.0C602.0 77.8 606.2 77.8 610.0 77.6C613.8 77.4 617.5 77.2 620.0 77.0C622.5 76.8 623.1 76.7 625.0 76.2C626.9 75.8 629.7 75.1 631.4 74.3C633.1 73.5 634.2 72.5 635.2 71.2C636.2 69.9 637.0 68.4 637.6 66.5C638.2 64.6 638.4 62.4 638.8 60.0C639.1 57.6 639.4 54.5 639.7 52.0C640.0 49.5 640.3 47.5 640.6 45.0C640.9 42.5 641.3 39.5 641.6 37.0C641.9 34.5 642.2 32.2 642.6 30.0C643.0 27.8 643.3 25.8 643.8 24.0C644.3 22.2 644.9 20.5 645.5 19.5C646.1 18.5 646.7 18.2 647.2 18.2C647.7 18.2 648.0 18.4 648.6 19.3C649.2 20.2 650.1 21.9 650.8 23.3C651.5 24.8 652.2 26.6 652.8 28.0C653.4 29.4 653.8 30.9 654.5 32.0C655.2 33.1 656.2 34.0 657.0 34.6C657.8 35.2 658.5 35.4 659.4 35.7C660.3 36.0 661.5 36.1 662.5 36.2C663.5 36.3 664.5 36.4 665.6 36.5C666.7 36.6 668.0 36.8 669.0 36.9C670.0 37.0 671.7 36.7 671.9 37.4C672.1 38.1 671.1 40.1 670.4 41.2C669.7 42.3 668.7 43.1 667.5 44.0C666.3 44.9 664.7 45.8 663.4 46.6C662.1 47.4 660.6 48.1 659.5 48.8C658.4 49.5 657.5 50.1 656.5 50.8C655.5 51.5 654.6 52.3 653.8 53.2C653.0 54.1 652.2 55.2 651.6 56.3C651.0 57.3 650.5 58.4 650.0 59.5C649.5 60.6 649.0 61.8 648.6 63.0C648.2 64.2 647.9 64.8 647.5 66.5C647.1 68.2 646.7 70.8 646.3 73.0C645.9 75.2 645.8 77.5 645.3 79.8C644.8 82.0 644.0 84.3 643.5 86.5C643.0 88.7 642.7 91.0 642.2 93.0C641.8 95.0 641.2 97.0 640.8 98.5C640.4 100.0 640.2 101.2 639.9 102.3C639.6 103.4 639.3 104.5 639.0 104.9C638.7 105.3 638.7 105.2 638.3 104.6C637.9 103.9 637.0 102.2 636.5 101.0C636.0 99.8 635.6 98.8 635.0 97.5C634.4 96.2 633.7 94.4 633.0 93.0C632.3 91.6 631.9 90.4 631.0 89.3C630.1 88.2 628.7 87.3 627.7 86.6C626.7 85.9 626.3 85.7 625.0 85.3C623.7 84.9 622.5 84.7 620.0 84.2C617.5 83.7 613.8 82.7 610.0 82.3C606.2 81.9 602.0 81.8 597.0 81.6C592.0 81.4 585.3 81.2 580.0 81.1C574.7 81.0 569.2 80.8 565.0 80.8C560.8 80.8 557.8 80.9 555.0 81.1C552.2 81.3 549.9 81.5 548.0 81.8C546.1 82.0 545.3 82.2 543.6 82.6C541.9 83.0 539.8 83.5 538.0 84.2C536.2 84.9 534.5 85.6 533.0 86.6C531.5 87.6 530.2 89.0 529.0 90.2C527.8 91.4 526.6 92.7 525.5 93.8C524.4 94.9 523.5 95.7 522.5 96.6C521.5 97.5 520.6 98.4 519.4 99.0C518.1 99.6 516.5 100.0 515.0 100.3C513.5 100.6 512.3 100.6 510.3 100.6C508.3 100.6 505.5 100.5 503.0 100.3C500.5 100.1 497.7 99.5 495.2 99.2C492.7 98.9 490.0 98.3 488.0 98.2C486.0 98.1 485.1 98.2 483.4 98.4C481.7 98.6 479.4 99.0 478.0 99.3C476.6 99.6 476.2 100.0 475.3 100.5C474.4 101.0 473.2 101.7 472.3 102.5C471.4 103.3 470.8 104.3 470.2 105.5C469.6 106.7 469.1 107.9 468.6 109.5C468.1 111.1 467.8 113.0 467.4 115.0C467.0 117.0 466.6 119.2 466.1 121.5C465.6 123.8 465.1 126.8 464.6 129.0C464.1 131.2 463.5 133.0 463.0 134.5C462.5 136.0 462.2 137.2 461.5 138.2C460.8 139.2 459.8 139.9 459.0 140.6C458.2 141.3 457.2 141.6 456.5 142.6C455.8 143.6 455.2 144.5 454.6 146.4C454.1 148.3 453.7 151.1 453.2 154.0C452.7 156.9 452.3 160.7 451.8 164.0C451.3 167.3 450.7 170.3 450.2 174.0C449.7 177.7 449.2 182.2 448.6 186.0C448.1 189.8 447.4 193.5 446.9 197.0C446.4 200.5 445.8 204.2 445.4 207.0C444.9 209.8 444.5 211.9 444.2 213.5C443.9 215.1 443.8 216.1 443.6 216.6C443.4 217.1 443.3 217.4 443.1 216.6C442.9 215.8 442.7 214.1 442.4 212.0C442.1 209.9 441.9 206.9 441.5 204.0C441.1 201.1 440.7 197.5 440.3 194.5C439.9 191.5 439.4 188.2 439.0 186.0C438.6 183.8 438.2 182.0 437.9 181.0C437.6 180.0 437.3 179.8 437.0 179.8C436.7 179.8 436.4 180.0 436.0 181.0C435.6 182.0 435.1 183.8 434.6 186.0C434.1 188.2 433.5 191.2 433.0 194.0C432.5 196.8 431.9 200.2 431.4 203.0C430.9 205.8 430.4 208.5 430.0 210.5C429.6 212.5 429.3 214.0 429.1 215.0C428.9 216.0 428.9 216.6 428.8 216.3C428.8 216.0 428.8 215.1 428.8 213.0C428.9 210.9 429.0 207.5 429.1 204.0C429.2 200.5 429.3 196.3 429.5 192.0C429.7 187.7 429.9 182.5 430.1 178.0C430.3 173.5 430.5 169.3 430.8 165.0C431.1 160.7 431.4 156.2 431.7 152.0C432.0 147.8 432.4 143.3 432.7 140.0C433.0 136.7 433.1 134.3 433.4 132.0C433.6 129.7 433.9 127.6 434.2 126.0C434.5 124.4 434.8 123.4 435.4 122.3C435.9 121.2 436.7 120.2 437.5 119.5C438.3 118.8 439.4 118.4 440.3 117.8C441.2 117.2 442.2 116.7 443.0 115.8C443.8 114.9 444.4 113.8 445.0 112.5C445.6 111.2 445.9 109.9 446.3 108.0C446.7 106.1 446.9 103.7 447.2 101.0C447.5 98.3 447.7 94.8 448.0 92.0C448.3 89.2 448.5 86.5 448.8 84.0C449.1 81.5 449.5 79.0 449.8 77.0C450.1 75.0 450.5 73.3 450.9 72.0C451.3 70.7 451.7 69.6 452.1 69.2C452.5 68.8 452.8 69.0 453.2 69.5C453.6 70.0 454.0 71.2 454.5 72.5C455.0 73.8 455.4 75.2 456.0 77.0C456.6 78.8 457.4 81.7 458.0 83.5C458.6 85.3 458.9 86.5 459.5 87.8C460.1 89.1 460.8 90.6 461.5 91.6C462.2 92.6 462.9 93.3 463.5 93.8C464.1 94.2 464.4 94.3 465.0 94.3C465.6 94.3 466.2 94.3 467.0 94.0C467.8 93.7 468.7 93.0 470.0 92.3C471.3 91.5 473.3 90.5 475.0 89.5C476.7 88.5 478.6 87.2 480.3 86.3C482.0 85.4 483.5 84.7 485.0 84.0C486.5 83.3 487.7 82.8 489.4 82.2C491.1 81.6 493.2 81.0 495.0 80.6C496.8 80.2 497.5 80.0 500.0 79.7C502.5 79.4 507.0 79.0 510.0 78.8C513.0 78.6 514.7 78.6 518.0 78.5C521.3 78.4 526.3 78.3 530.0 78.2C533.7 78.1 536.6 78.0 540.0 77.9C543.4 77.8 548.8 77.7 550.5 77.7" stroke="#111" stroke-width="1.5"/>
</g>
<rect x="411.3" y="4.1" width="270.5" height="225.9" fill="none" stroke="#4e4038" stroke-width="1.4"/>
<path d="M406.8 206.8H411.3M677.3 206.8H681.8M406.8 175.0H411.3M677.3 175.0H681.8M406.8 143.2H411.3M677.3 143.2H681.8M406.8 111.5H411.3M677.3 111.5H681.8M406.8 79.7H411.3M677.3 79.7H681.8M406.8 47.9H411.3M677.3 47.9H681.8M406.8 16.2H411.3M677.3 16.2H681.8M409.0 222.7H411.3M679.5 222.7H681.8M409.0 190.9H411.3M679.5 190.9H681.8M409.0 159.1H411.3M679.5 159.1H681.8M409.0 127.4H411.3M679.5 127.4H681.8M409.0 95.6H411.3M679.5 95.6H681.8M409.0 63.8H411.3M679.5 63.8H681.8M409.0 32.0H411.3M679.5 32.0H681.8M437.5 230.0V233.6M437.5 4.1V7.7M475.8 230.0V233.6M475.8 4.1V7.7M514.0 230.0V233.6M514.0 4.1V7.7M552.2 230.0V233.6M552.2 4.1V7.7M590.5 230.0V233.6M590.5 4.1V7.7M628.8 230.0V233.6M628.8 4.1V7.7M667.0 230.0V233.6M667.0 4.1V7.7M418.4 230.0V232.0M418.4 4.1V6.1M456.6 230.0V232.0M456.6 4.1V6.1M494.9 230.0V232.0M494.9 4.1V6.1M533.1 230.0V232.0M533.1 4.1V6.1M571.4 230.0V232.0M571.4 4.1V6.1M609.6 230.0V232.0M609.6 4.1V6.1M647.9 230.0V232.0M647.9 4.1V6.1" stroke="#4e4038" stroke-width="1.2" fill="none"/>
<g font-size="9.6" fill="#222">
<text x="403.7" y="210.3" text-anchor="end" textLength="14.5" lengthAdjust="spacingAndGlyphs" font-size="10">-80</text>
<text x="403.7" y="178.5" text-anchor="end" textLength="14.5" lengthAdjust="spacingAndGlyphs" font-size="10">-60</text>
<text x="403.7" y="146.7" text-anchor="end" textLength="14.5" lengthAdjust="spacingAndGlyphs" font-size="10">-40</text>
<text x="403.7" y="115.0" text-anchor="end" textLength="14.5" lengthAdjust="spacingAndGlyphs" font-size="10">-20</text>
<text x="403.7" y="83.2" text-anchor="end" textLength="5.4" lengthAdjust="spacingAndGlyphs" font-size="10">0</text>
<text x="403.7" y="51.4" text-anchor="end" textLength="10.8" lengthAdjust="spacingAndGlyphs" font-size="10">20</text>
<text x="403.7" y="19.7" text-anchor="end" textLength="10.8" lengthAdjust="spacingAndGlyphs" font-size="10">40</text>
<text x="437.5" y="244.9" text-anchor="middle">-1.5</text>
<text x="475.8" y="244.9" text-anchor="middle">-1.0</text>
<text x="514.0" y="244.9" text-anchor="middle">-0.5</text>
<text x="552.2" y="244.9" text-anchor="middle">0.0</text>
<text x="590.5" y="244.9" text-anchor="middle">0.5</text>
<text x="628.8" y="244.9" text-anchor="middle">1.0</text>
<text x="667.0" y="244.9" text-anchor="middle">1.5</text>
</g>
<text x="535.2" y="258.8" font-size="9.9" fill="#222" textLength="22.1" lengthAdjust="spacingAndGlyphs">E (V)</text>
<text x="366.0" y="12.9" font-size="12" fill="#111">(b)</text>
<text transform="translate(382.0,144.6) rotate(-90)" font-size="10.8" fill="#222" textLength="62.2" lengthAdjust="spacingAndGlyphs">Current (&#956;A)</text>
<path d="M534.5 119H564" stroke="#111" stroke-width="1.5"/>
<path d="M534.5 135.5H564" stroke="#d04040" stroke-width="1.4" stroke-dasharray="5 1.8 1.4 1.8"/>
<path d="M534.5 148.5H564" stroke="#3a3ab0" stroke-width="1.4" stroke-dasharray="0.9 1.6"/>
<g font-size="10.4" fill="#111">
<text x="566.1" y="123.4" textLength="15.7" lengthAdjust="spacingAndGlyphs">M1</text>
<text x="566.1" y="139.5" textLength="15.7" lengthAdjust="spacingAndGlyphs">M2</text>
<text x="566.1" y="152.5" textLength="7.6" lengthAdjust="spacingAndGlyphs">D</text>
</g>
</g>
</svg></body></html>
